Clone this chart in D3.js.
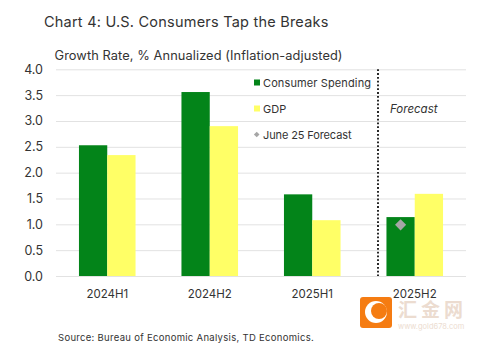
<!DOCTYPE html>
<html>
<head>
<meta charset="utf-8">
<script src="https://cdn.jsdelivr.net/npm/d3@7"></script>
<style>
  html, body { margin: 0; padding: 0; background: #fff; }
  svg { display: block; }
  text { font-family: "Inter", "Noto Sans", sans-serif; fill: #333; }
</style>
</head>
<body>
<svg width="480" height="352"></svg>
<script>
const categories = ['2024H1', '2024H2', '2025H1', '2025H2'];
const consumerSpending = [2.53, 3.56, 1.58, 1.14];
const gdp = [2.34, 2.90, 1.08, 1.59];
const juneForecast = [null, null, null, 0.99];
const yTicks = [0, 0.5, 1, 1.5, 2, 2.5, 3, 3.5, 4];

const green = '#038419';
const yellow = '#ffff66';
const gray = '#a6a6a6';

const svg = d3.select('svg');

const x = d3.scaleBand()
  .domain(categories)
  .range([56, 466])
  .paddingInner(0.448)
  .paddingOuter(0.224);

const y = d3.scaleLinear()
  .domain([0, 4])
  .range([276, 69.3]);

const barW = x.bandwidth() / 2;

// gridlines + y labels
const yAxis = d3.axisLeft(y)
  .tickValues(yTicks)
  .tickSize(-410)
  .tickPadding(13)
  .tickFormat(d3.format('.1f'));

const yG = svg.append('g')
  .attr('transform', 'translate(56,0)')
  .call(yAxis);
yG.select('.domain').remove();
yG.selectAll('.tick line').attr('stroke', '#e2e2e2').attr('stroke-width', 1);
yG.selectAll('.tick text').style('font-size', '12.5px').style('font-family', 'Inter').attr('fill', '#333');

// x labels
const xAxis = d3.axisBottom(x).tickSize(0).tickPadding(14);
const xG = svg.append('g')
  .attr('transform', 'translate(0,276)')
  .call(xAxis);
xG.select('.domain').remove();
xG.selectAll('.tick text').style('font-size', '11.5px').style('font-family', 'Inter').attr('fill', '#333');

// bars
svg.append('g').selectAll('rect').data(categories).join('rect')
  .attr('x', d => x(d))
  .attr('y', (d, i) => y(consumerSpending[i]))
  .attr('width', barW)
  .attr('height', (d, i) => y(0) - y(consumerSpending[i]))
  .attr('fill', green);

svg.append('g').selectAll('rect').data(categories).join('rect')
  .attr('x', d => x(d) + barW)
  .attr('y', (d, i) => y(gdp[i]))
  .attr('width', barW)
  .attr('height', (d, i) => y(0) - y(gdp[i]))
  .attr('fill', yellow);

// forecast marker
svg.append('g').selectAll('path')
  .data(categories.filter((d, i) => juneForecast[i] !== null))
  .join('path')
  .attr('d', d3.symbol().type(d3.symbolSquare).size(62))
  .attr('transform', d => `translate(${x(d) + barW / 2},${y(juneForecast[categories.indexOf(d)])}) rotate(45)`)
  .attr('fill', gray);

// forecast divider
svg.append('line')
  .attr('x1', 378).attr('x2', 378)
  .attr('y1', y(4)).attr('y2', y(0))
  .attr('stroke', '#111')
  .attr('stroke-width', 1.8)
  .attr('stroke-dasharray', '1.8 2');

svg.append('text')
  .attr('x', 390).attr('y', 113)
  .style('font-size', '11.5px')
  .style('font-style', 'italic')
  .text('Forecast');

// legend
const legendItems = ['Consumer Spending', 'GDP', 'June 25 Forecast'];
const legendY = [82.5, 108.5, 134.5];
const legendSpacing = ['0.12px', '0', '-0.12px'];
const legend = svg.append('g');
legendItems.forEach((name, i) => {
  if (i < 2) {
    legend.append('rect')
      .attr('x', 254).attr('y', legendY[i] - 3)
      .attr('width', 6).attr('height', 6)
      .attr('fill', i === 0 ? green : yellow);
  } else {
    legend.append('path')
      .attr('d', d3.symbol().type(d3.symbolSquare).size(16))
      .attr('transform', `translate(256.7,${legendY[i]}) rotate(45)`)
      .attr('fill', gray);
  }
  legend.append('text')
    .attr('x', 263).attr('y', legendY[i] + 4)
    .style('font-size', '11px')
    .style('letter-spacing', legendSpacing[i])
    .text(name);
});

// titles
svg.append('text')
  .attr('x', 44).attr('y', 27)
  .style('font-size', '14.5px')
  .style('letter-spacing', '0.22px')
  .text('Chart 4: U.S. Consumers Tap the Breaks');

svg.append('text')
  .attr('x', 54.5).attr('y', 60)
  .style('font-size', '12.8px')
  .style('letter-spacing', '0.09px')
  .text('Growth Rate, % Annualized (Inflation-adjusted)');

svg.append('text')
  .attr('x', 58).attr('y', 340.5)
  .style('font-size', '9.5px')
  .style('letter-spacing', '0.3px')
  .text('Source: Bureau of Economic Analysis, TD Economics.');

// watermark
const wm = svg.append('g');
wm.append('rect')
  .attr('x', 360).attr('y', 297)
  .attr('width', 32).attr('height', 31).attr('rx', 3)
  .attr('fill', '#f57c12');
wm.append('circle')
  .attr('cx', 376).attr('cy', 312).attr('r', 11)
  .attr('fill', '#fff');
wm.append('circle')
  .attr('cx', 379).attr('cy', 311).attr('r', 8)
  .attr('fill', '#f57c12');
wm.append('text')
  .attr('x', 398).attr('y', 317)
  .style('font-family', '"Noto Sans CJK SC"')
  .style('font-size', '19px')
  .style('font-weight', 700)
  .style('letter-spacing', '4px')
  .style('fill', '#ecdcd0')
  .text('汇金网');
wm.append('text')
  .attr('x', 398).attr('y', 329)
  .style('font-size', '7.5px')
  .style('fill', '#ecdcd0')
  .text('www.gold678.com');
</script>
</body>
</html>
